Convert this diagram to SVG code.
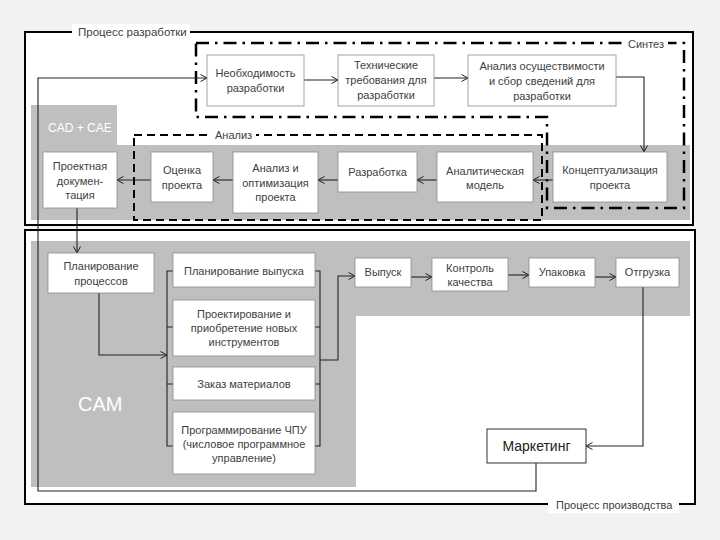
<svg xmlns="http://www.w3.org/2000/svg" width="720" height="540" viewBox="0 0 720 540">
<defs>
<marker id="ar" viewBox="0 0 8 8" refX="7.5" refY="4" markerWidth="8" markerHeight="8" markerUnits="userSpaceOnUse" orient="auto">
<path d="M1,0.5 L7.5,4 L1,7.5" fill="none" stroke="#222" stroke-width="1"/>
</marker>
<style>
.frame{fill:#fff;stroke:#000;stroke-width:2}
.gray{fill:#bfbfbf;stroke:none}
.box{fill:#fff;stroke:#8c8c8c;stroke-width:0.8}
.t{font-family:"Liberation Sans",Arial,sans-serif;font-size:11px;fill:#404040;text-anchor:middle}
.lbl{font-family:"Liberation Sans",Arial,sans-serif;font-size:11px;fill:#404040}
.wt{font-family:"Liberation Sans",Arial,sans-serif;fill:#fff}
.c{fill:none;stroke:#222;stroke-width:1.1}
.ca{fill:none;stroke:#222;stroke-width:1.1;marker-end:url(#ar)}
.syn{fill:none;stroke:#000;stroke-width:2.5;stroke-dasharray:13 6 2.5 6}
.ana{fill:none;stroke:#000;stroke-width:2;stroke-dasharray:8 5}
</style>
</defs>
<rect x="0" y="0" width="720" height="540" fill="#f2f2f2"/>

<g id="dev-process">
<rect class="frame" x="25" y="32" width="668" height="193"/>
<path class="gray" d="M31,105 H117 V145 H690 V220 H31 Z"/>
<rect x="72" y="24" width="118" height="16" fill="#fff"/>
<text class="lbl" x="78" y="36" style="font-size:11.5px">Процесс разработки</text>
<text class="wt" x="48" y="132" style="font-size:12px">CAD + CAE</text>
</g>

<g id="prod-process">
<rect class="frame" x="25" y="230" width="670" height="274"/>
<path class="gray" d="M31,241 H690 V316 H356 V487 H31 Z"/>
<rect x="548" y="497" width="131" height="16" fill="#fff"/>
<text class="lbl" x="556" y="509">Процесс производства</text>
<text class="wt" x="78" y="411" style="font-size:20px">CAM</text>
</g>

<g id="synthesis">
<path class="syn" d="M196,43 H684 V208 H547 V117 H196 Z"/>
<rect x="622" y="37" width="46" height="14" fill="#fff"/>
<text class="lbl" x="628" y="48">Синтез</text>
</g>

<g id="analysis">
<rect class="ana" x="134" y="135" width="408" height="85"/>
<rect x="210" y="128" width="46" height="14" fill="#fff"/>
<text class="lbl" x="215" y="139">Анализ</text>
</g>

<g id="connectors">
<path class="ca" d="M536,463 V491 H38 V78 H207"/>
<path class="ca" d="M304,80 H338"/>
<path class="ca" d="M434,78 H468"/>
<path class="ca" d="M616,77 H644 V152"/>
<path class="ca" d="M553,180 H533"/>
<path class="ca" d="M437,180 H417"/>
<path class="ca" d="M338,180 H318"/>
<path class="ca" d="M233,180 H213"/>
<path class="ca" d="M151,180 H117"/>
<path class="ca" d="M77,208 V253"/>
<path class="ca" d="M99,293 V355 H167"/>
<path class="c" d="M173,271 H167 V446 H173 M167,327 H173 M167,384 H173"/>
<path class="c" d="M315,271 H320 V446 H315 M320,327 H315 M320,384 H315"/>
<path class="ca" d="M320,360 H338 V276 H355"/>
<path class="ca" d="M411,277 H432"/>
<path class="ca" d="M508,275 H529"/>
<path class="ca" d="M595,277 H616"/>
<path class="ca" d="M643,287 V446 H586"/>
</g>

<g id="need">
<rect class="box" x="207" y="55" width="97" height="51"/>
<text class="t" x="255.5" y="77">Необходимость</text>
<text class="t" x="255.5" y="92">разработки</text>
</g>
<g id="tech-req">
<rect class="box" x="338" y="55" width="96" height="51"/>
<text class="t" x="386" y="69">Технические</text>
<text class="t" x="386" y="84">требования для</text>
<text class="t" x="386" y="99">разработки</text>
</g>
<g id="feasibility">
<rect class="box" x="468" y="55" width="148" height="51"/>
<text class="t" x="542" y="70">Анализ осуществимости</text>
<text class="t" x="542" y="85">и сбор сведений для</text>
<text class="t" x="542" y="100">разработки</text>
</g>
<g id="concept">
<rect class="box" x="553" y="152" width="114" height="50"/>
<text class="t" x="610" y="174">Концептуализация</text>
<text class="t" x="610" y="189">проекта</text>
</g>
<g id="anal-model">
<rect class="box" x="437" y="152" width="96" height="50"/>
<text class="t" x="485" y="175">Аналитическая</text>
<text class="t" x="485" y="189">модель</text>
</g>
<g id="development">
<rect class="box" x="338" y="152" width="79" height="40"/>
<text class="t" x="377.5" y="176">Разработка</text>
</g>
<g id="optimization">
<rect class="box" x="233" y="152" width="85" height="61"/>
<text class="t" x="275.5" y="172">Анализ и</text>
<text class="t" x="275.5" y="187">оптимизация</text>
<text class="t" x="275.5" y="201">проекта</text>
</g>
<g id="evaluation">
<rect class="box" x="151" y="152" width="62" height="50"/>
<text class="t" x="182" y="174">Оценка</text>
<text class="t" x="182" y="189">проекта</text>
</g>
<g id="documentation">
<rect class="box" x="43" y="152" width="74" height="56"/>
<text class="t" x="80" y="170">Проектная</text>
<text class="t" x="80" y="185">докумен-</text>
<text class="t" x="80" y="199">тация</text>
</g>

<g id="process-planning">
<rect class="box" x="48" y="253" width="106" height="40"/>
<text class="t" x="101" y="270">Планирование</text>
<text class="t" x="101" y="285">процессов</text>
</g>
<g id="release-planning">
<rect class="box" x="173" y="253" width="142" height="34"/>
<text class="t" x="244" y="275">Планирование выпуска</text>
</g>
<g id="tools">
<rect class="box" x="173" y="300" width="142" height="56"/>
<text class="t" x="244" y="318">Проектирование и</text>
<text class="t" x="244" y="332">приобретение новых</text>
<text class="t" x="244" y="346">инструментов</text>
</g>
<g id="materials">
<rect class="box" x="173" y="367" width="142" height="33"/>
<text class="t" x="244" y="388">Заказ материалов</text>
</g>
<g id="cnc">
<rect class="box" x="173" y="412" width="142" height="62"/>
<text class="t" x="244" y="434">Программирование ЧПУ</text>
<text class="t" x="244" y="448">(числовое программное</text>
<text class="t" x="244" y="462">управление)</text>
</g>
<g id="release">
<rect class="box" x="355" y="258" width="56" height="29"/>
<text class="t" x="383" y="276">Выпуск</text>
</g>
<g id="quality">
<rect class="box" x="432" y="258" width="76" height="33"/>
<text class="t" x="470" y="272">Контроль</text>
<text class="t" x="470" y="286">качества</text>
</g>
<g id="packing">
<rect class="box" x="529" y="258" width="66" height="29"/>
<text class="t" x="562" y="276">Упаковка</text>
</g>
<g id="shipping">
<rect class="box" x="616" y="258" width="63" height="29"/>
<text class="t" x="647.5" y="276">Отгрузка</text>
</g>
<g id="marketing">
<rect x="487" y="429" width="99" height="34" fill="#fff" stroke="#333" stroke-width="1"/>
<text class="t" x="536.5" y="451" style="font-size:14px;fill:#222">Маркетинг</text>
</g>
</svg>
